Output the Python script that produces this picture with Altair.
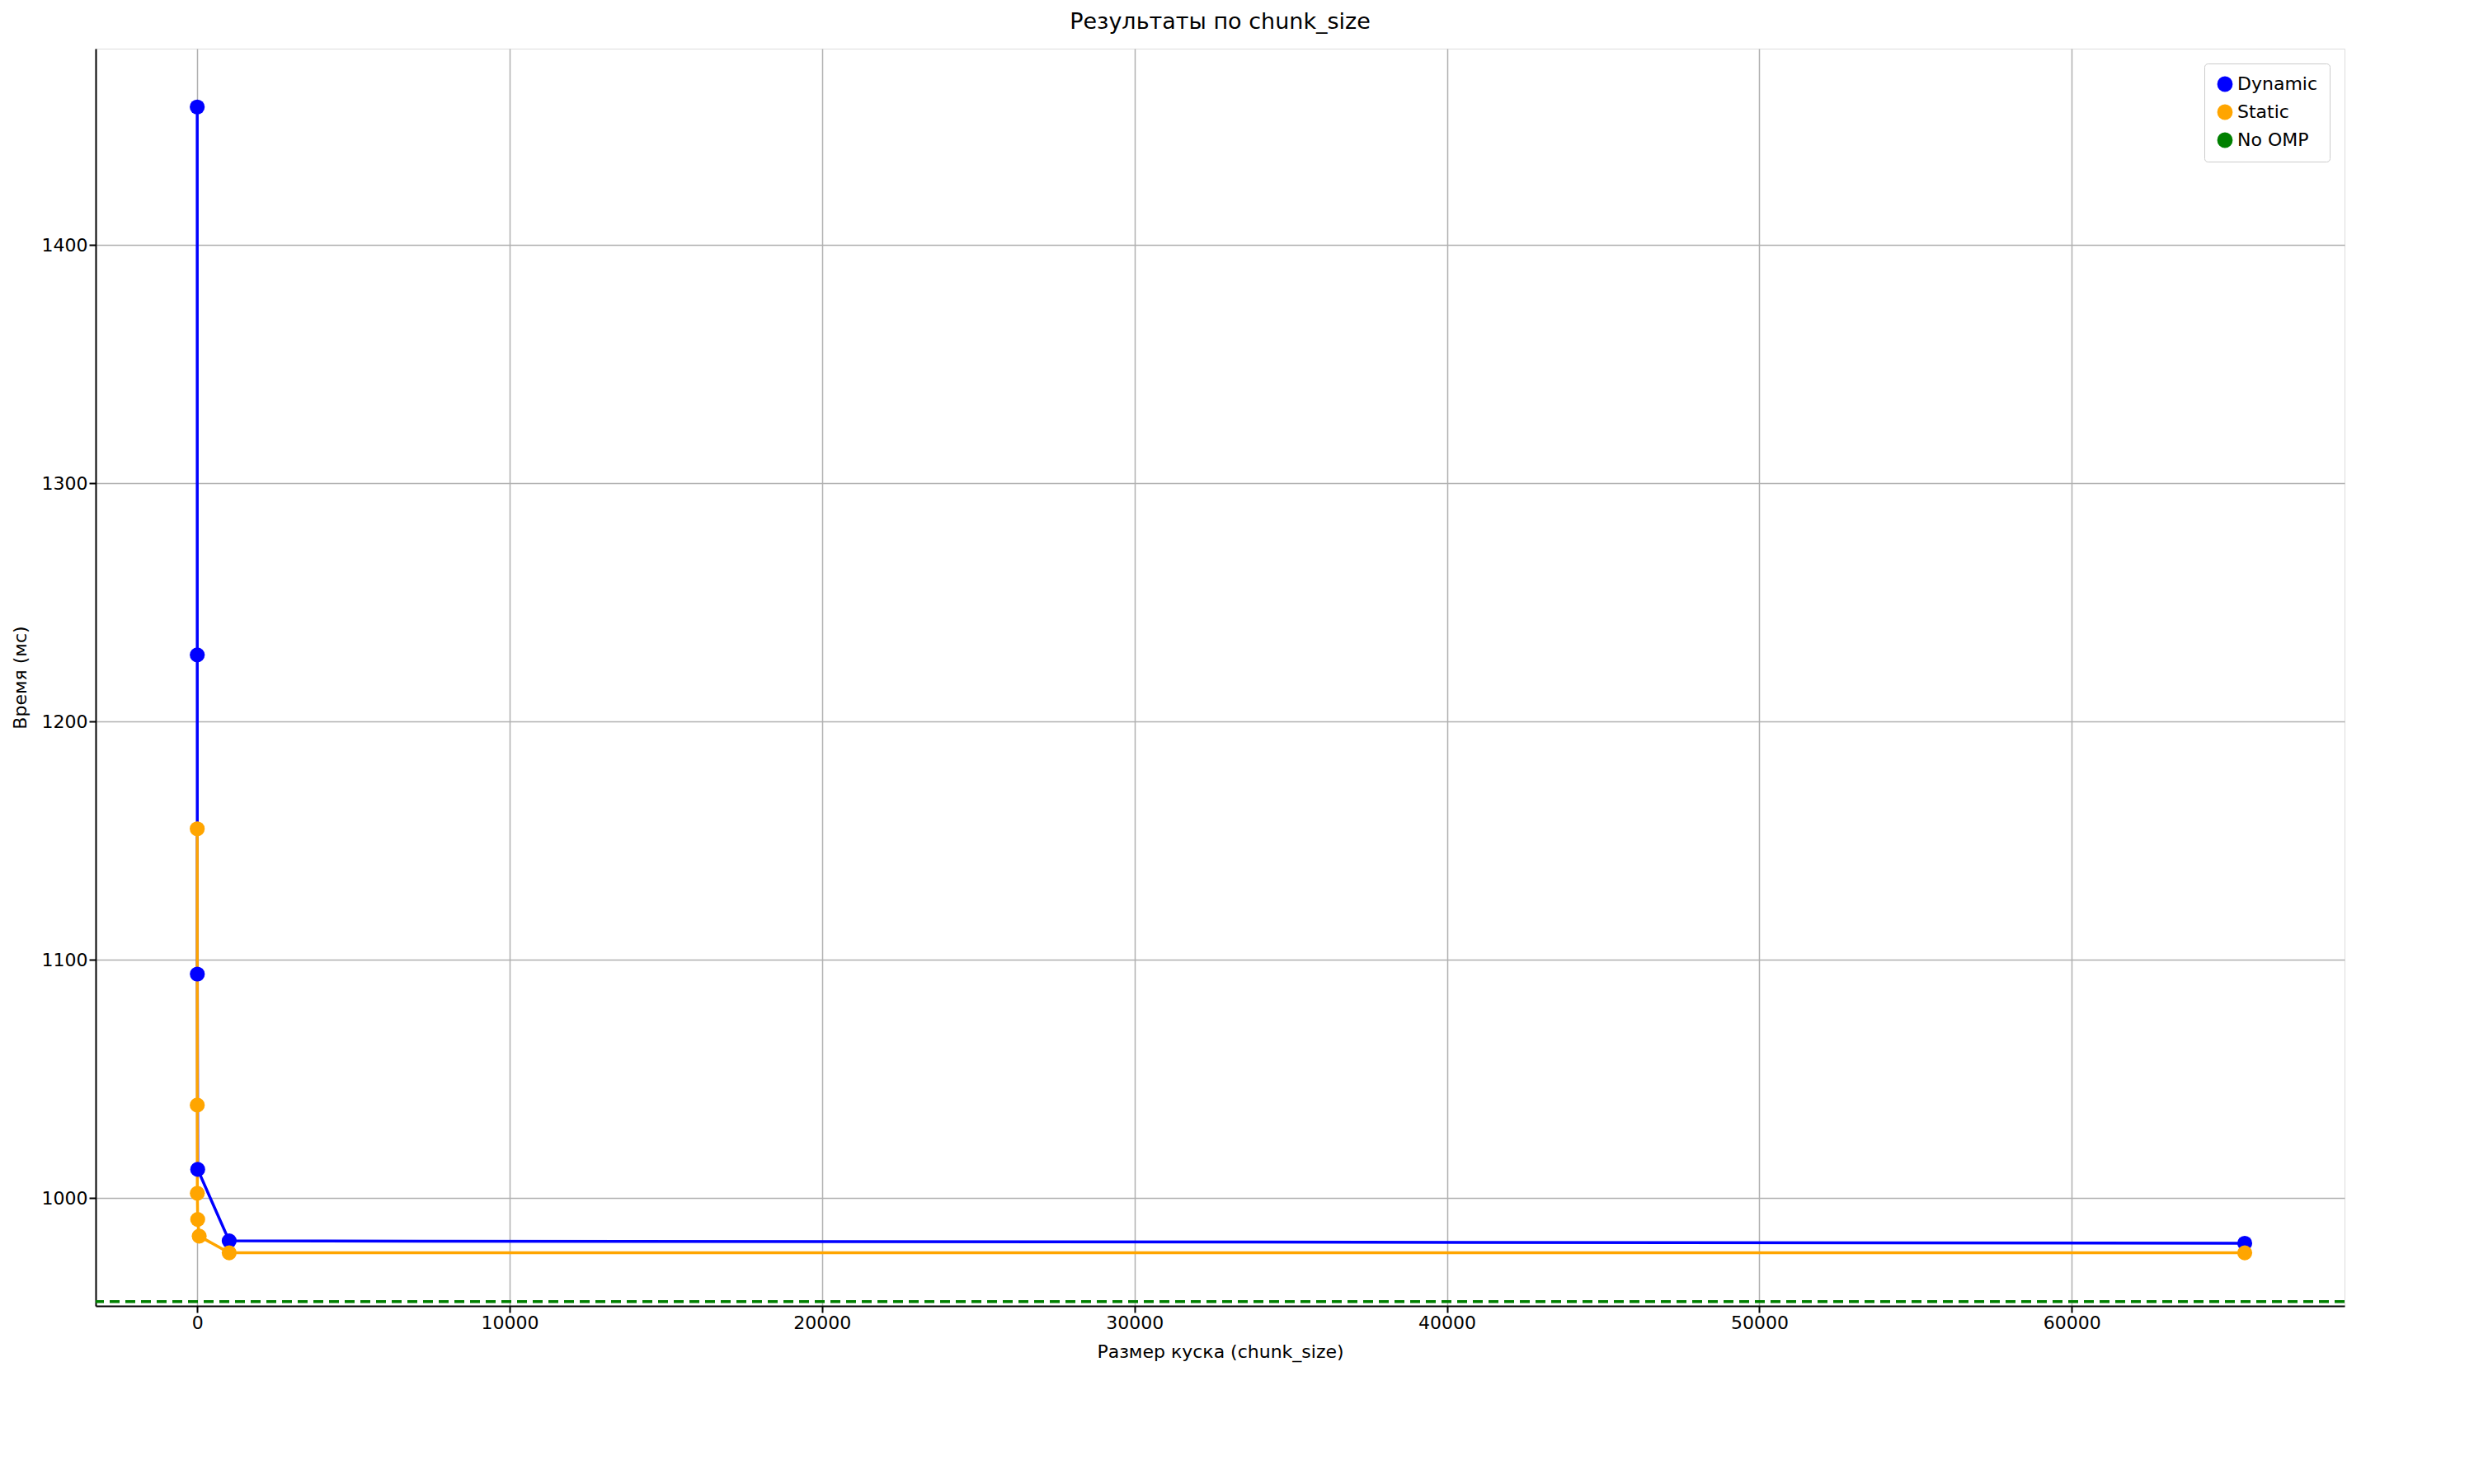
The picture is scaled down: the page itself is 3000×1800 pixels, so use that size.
import altair as alt
import pandas as pd

# chunk sizes and timings (ms)
dyn_chunk = [1, 2, 4, 16, 1024, 65536]
dyn_time = [1458, 1228, 1094, 1012, 982, 981]
st_chunk = [1, 2, 4, 16, 64, 1024, 65536]
st_time = [1155, 1039, 1002, 991, 984, 977, 977]
no_omp = 956.5

df = pd.concat([
    pd.DataFrame({'chunk': dyn_chunk, 'time': dyn_time, 'series': 'Dynamic'}),
    pd.DataFrame({'chunk': st_chunk, 'time': st_time, 'series': 'Static'}),
])
ref = pd.DataFrame({'time': [no_omp], 'series': ['No OMP']})

color = alt.Color('series:N', title=None,
                  scale=alt.Scale(domain=['Dynamic', 'Static', 'No OMP'],
                                  range=['blue', 'orange', 'green']),
                  legend=alt.Legend(orient='top-right', labelFontSize=22, symbolSize=300,
                                    strokeColor='#cccccc', fillColor='white', padding=14,
                                    cornerRadius=4, labelFont='DejaVu Sans', rowPadding=10))

ax = dict(grid=True, gridColor='#b0b0b0', gridWidth=1.5, domainColor='black', domainWidth=2,
          tickColor='black', tickSize=8, tickWidth=2, labelFontSize=22, titleFontSize=22,
          labelFont='DejaVu Sans', titleFont='DejaVu Sans', titleFontWeight='normal',
          labelColor='black', titleColor='black', titlePadding=14)

x = alt.X('chunk:Q', title='Размер куска (chunk_size)',
          scale=alt.Scale(domain=[-3250, 68730], nice=False, zero=False),
          axis=alt.Axis(values=[0, 10000, 20000, 30000, 40000, 50000, 60000], format='d', **ax))
y = alt.Y('time:Q', title='Время (мс)',
          scale=alt.Scale(domain=[954.7, 1482.5], nice=False, zero=False),
          axis=alt.Axis(values=[1000, 1100, 1200, 1300, 1400], format='d', **ax))

base = alt.Chart(df).encode(x=x, y=y, color=color, detail='series:N')
lines = base.mark_line(strokeWidth=3.5)
points = base.mark_circle(size=330, opacity=1)
rule = alt.Chart(ref).mark_rule(strokeDash=[12, 7], strokeWidth=3.5).encode(
    y=alt.Y('time:Q'), color=color)

chart = alt.layer(lines, points, rule).properties(
    width=2727, height=1525,
    title=alt.TitleParams('Результаты по chunk_size', fontSize=27, fontWeight='normal',
                          font='DejaVu Sans', offset=18)
).configure_view(stroke='black', strokeWidth=2
).configure(background='white')

chart.save("out.html", embed_options={"renderer": "svg", "actions": False})
